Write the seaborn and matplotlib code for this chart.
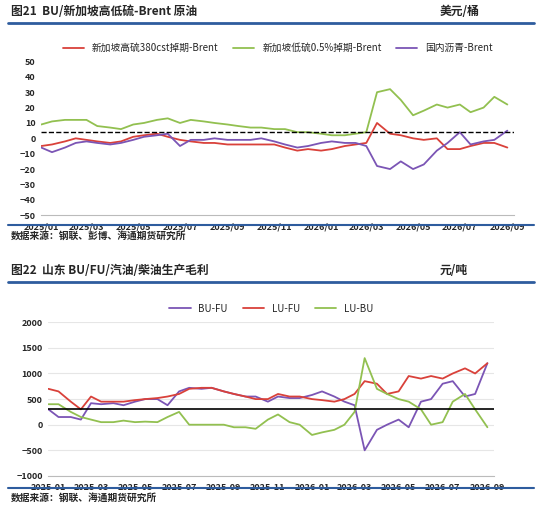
import pandas as pd
import matplotlib.pyplot as plt
import matplotlib.dates as mdates
import seaborn as sns

sns.set_style('white')
plt.rcParams['font.family'] = ['Noto Sans CJK SC', 'DejaVu Sans']

# semi-monthly readings, 2025-01-01 .. 2026-09-01
dates = pd.date_range('2025-01-01', '2026-09-01', freq='SMS')

hsfo = [-5, -4, -2, 0, -1, -2, -3, -2, 1, 2, 3, 1, -1, -2, -3, -3, -4, -4, -4, -4, -4,
        -6, -8, -7, -8, -7, -5, -4, -3, 10, 3, 2, 0, -1, 0, -7, -7, -5, -3, -3, -6]
lsfo = [9, 11, 12, 12, 12, 8, 7, 6, 9, 10, 12, 13, 10, 12, 11, 10, 9, 8, 7, 7, 6,
        6, 4, 4, 3, 2, 2, 3, 4, 30, 32, 25, 15, 18, 22, 20, 22, 17, 20, 27, 22]
bu_brent = [-6, -9, -6, -3, -2, -3, -4, -3, -1, 1, 2, 3, -5, -1, -1, 0, -1, -1, -1, 0, -2,
            -4, -6, -5, -3, -2, -3, -3, -5, -18, -20, -15, -20, -17, -8, -3, 4, -4, -2, -1, 5]

bu_fu = [300, 150, 150, 100, 420, 400, 420, 380, 450, 500, 500, 380, 650, 720, 700, 720, 650,
         600, 550, 550, 450, 550, 520, 520, 580, 650, 550, 450, 380, -500, -100, 0, 100, -50,
         450, 500, 800, 850, 550, 600, 1200]
lu_fu = [700, 650, 450, 300, 550, 450, 450, 450, 480, 500, 520, 550, 600, 700, 720, 720, 650,
         600, 550, 500, 500, 600, 550, 550, 500, 480, 450, 500, 600, 850, 800, 600, 650, 950,
         900, 950, 900, 1000, 1100, 1000, 1200]
lu_bu = [400, 400, 250, 150, 100, 50, 50, 80, 50, 60, 50, 150, 250, 0, 0, 0, 0, -50, -50, -80,
         100, 200, 50, 0, -200, -150, -100, 0, 250, 1300, 700, 600, 500, 450, 300, 0, 50, 450,
         600, 300, -50]

RED, GREEN, PURPLE = '#d9413a', '#92c050', '#7b55b5'
NAVY = '#2e5c9e'

df1 = pd.DataFrame({'date': dates, '新加坡高硫380cst掉期-Brent': hsfo,
                    '新加坡低硫0.5%掉期-Brent': lsfo, '国内沥青-Brent': bu_brent})
df2 = pd.DataFrame({'date': dates, 'BU-FU': bu_fu, 'LU-FU': lu_fu, 'LU-BU': lu_bu})

fig = plt.figure(figsize=(5.5, 5.3), dpi=100)


def header(y, title, unit):
    fig.text(0.02, y, title, fontsize=8.5, fontweight='bold', va='center')
    fig.text(0.80, y, unit, fontsize=8.5, fontweight='bold', va='center')
    fig.add_artist(plt.Line2D([0.015, 0.97], [y - 0.022, y - 0.022], color=NAVY, lw=2))


def footer(y, txt):
    fig.add_artist(plt.Line2D([0.015, 0.97], [y + 0.02, y + 0.02], color=NAVY, lw=1.5))
    fig.text(0.02, y, txt, fontsize=7, fontweight='bold', va='center')


header(0.978, '图21  BU/新加坡高低硫-Brent 原油', '美元/桶')
ax1 = fig.add_axes([0.075, 0.594, 0.86, 0.29])
for col, c in zip(df1.columns[1:], [RED, GREEN, PURPLE]):
    sns.lineplot(data=df1, x='date', y=col, ax=ax1, color=c, lw=1.3, label=col)
ax1.axhline(4, color='black', ls='--', lw=1)
ax1.set_ylim(-50, 50)
ax1.set_yticks(range(-50, 51, 10))
footer(0.555, '数据来源：钢联、彭博、海通期货研究所')

header(0.49, '图22  山东 BU/FU/汽油/柴油生产毛利', '元/吨')
ax2 = fig.add_axes([0.088, 0.102, 0.81, 0.29])
for col, c in zip(df2.columns[1:], [PURPLE, RED, GREEN]):
    sns.lineplot(data=df2, x='date', y=col, ax=ax2, color=c, lw=1.3, label=col)
ax2.axhline(300, color='black', lw=1.2)
ax2.set_ylim(-1000, 2000)
ax2.set_yticks(range(-1000, 2001, 500))
ax2.yaxis.grid(True, color='#e6e6e6', lw=0.8)
footer(0.06, '数据来源：钢联、海通期货研究所')

for ax, fmt in [(ax1, '%Y/%m'), (ax2, '%Y-%m')]:
    ax.set_xlim(pd.Timestamp('2025-01-01'), pd.Timestamp('2026-09-10'))
    ax.xaxis.set_major_locator(mdates.MonthLocator(bymonth=[1, 3, 5, 7, 9, 11]))
    ax.xaxis.set_major_formatter(mdates.DateFormatter(fmt))
    ax.set_xlabel('')
    ax.set_ylabel('')
    ax.tick_params(labelsize=6.5, length=0)
    ax.tick_params(axis='x', pad=5)
    ax.tick_params(axis='y', pad=4)
    for t in ax.get_xticklabels() + ax.get_yticklabels():
        t.set_fontweight('bold')
    for s in ['top', 'right', 'left']:
        ax.spines[s].set_visible(False)
    ax.spines['bottom'].set_color('#bbbbbb')
    ax.legend(loc='lower center', bbox_to_anchor=(0.5, 1.03), ncol=3, frameon=False,
              fontsize=7, handlelength=2.2, columnspacing=1.5, borderaxespad=0)

fig.savefig('out.png', dpi=100)
